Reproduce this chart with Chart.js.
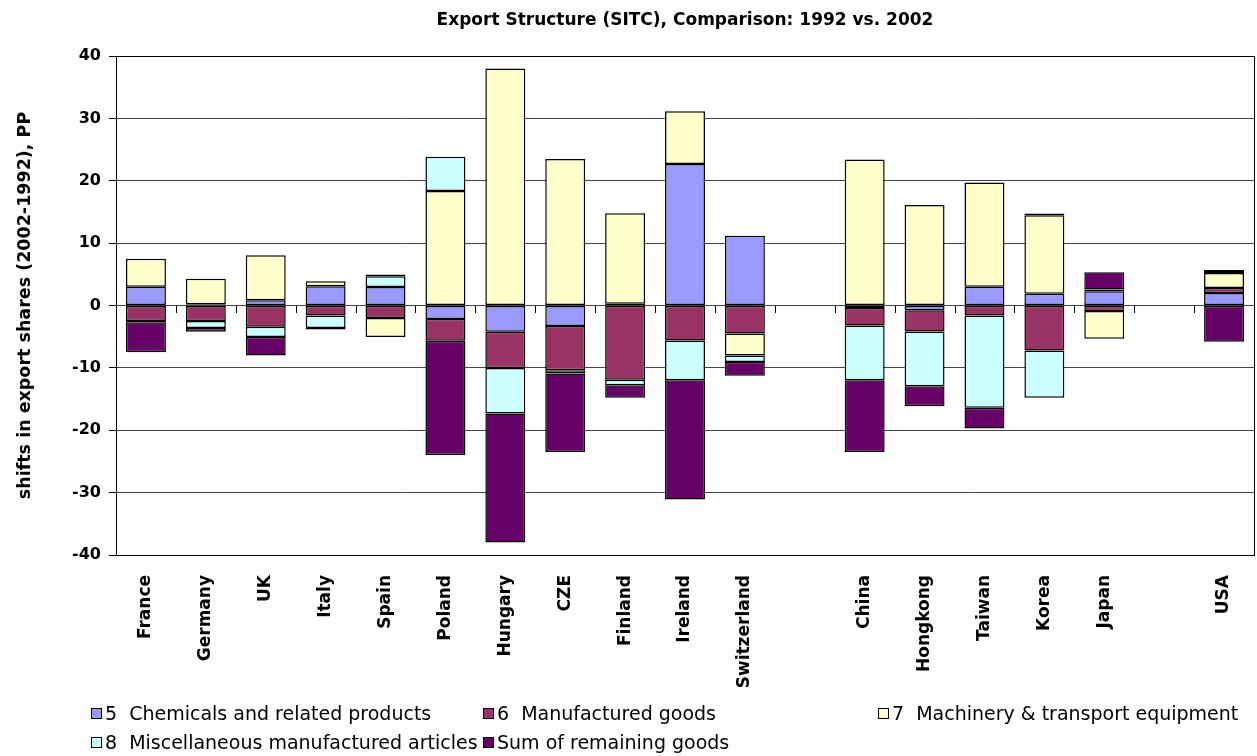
<!DOCTYPE html>
<html>
<head>
<meta charset="utf-8">
<script src="https://cdn.jsdelivr.net/npm/chart.js@4"></script>
<style>
  body { margin: 0; background: #fff; }
  #wrap { position: relative; width: 1257px; height: 756px; }
  #legend { position: absolute; left: 0; top: 0; width: 100%; height: 100%; pointer-events: none;
            font-family: 'DejaVu Sans', sans-serif; font-size: 19px; color: #000; }
  .item { position: absolute; white-space: pre; line-height: 20px; }
  .box { display: inline-block; width: 9px; height: 9px; border: 1px solid #000; margin-right: 3px; vertical-align: 1px; }
</style>
</head>
<body>
<div id="wrap">
  <canvas id="exportChart" width="1257" height="756"></canvas>
  <div id="legend"></div>
</div>
<script>
// categories (blank entries are the gaps between country groups)
const categories = ['France', 'Germany', 'UK', 'Italy', 'Spain', 'Poland', 'Hungary', 'CZE', 'Finland',
  'Ireland', 'Switzerland', '', 'China', 'Hongkong', 'Taiwan', 'Korea', 'Japan', '', 'USA'];

// shifts in export shares 2002-1992, percentage points
const chemicals    = [3.0, 0.2, 0.85, 3.1, 2.95, -2.15, -4.2, -3.3, 0.3, 22.7, 11.2, null, -0.4, -0.75, 3.0, 1.9, 2.3, null, 2.0];
const manufactured = [-2.5, -2.5, -3.4, -1.6, -2.0, -3.5, -5.8, -7.1, -11.9, -5.6, -4.5, null, -2.8, -3.4, -1.6, -7.2, -0.9, null, 0.8];
const machinery    = [4.5, 4.1, 7.2, 0.8, -3.05, 18.35, 38.0, 23.5, 14.5, 8.45, -3.5, null, 23.4, 16.1, 16.7, 12.55, -4.45, null, 2.4];
const misc         = [-0.2, -1.1, -1.65, -2.0, 1.75, 5.5, -7.3, -0.5, -0.9, -6.4, -1.05, null, -8.8, -8.8, -14.8, -7.6, 0.25, null, 0.5];
const remaining    = [-4.8, -0.6, -2.95, -0.25, 0.25, -18.3, -20.7, -12.6, -2.0, -19.1, -2.2, null, -11.5, -3.2, -3.3, 0.3, 2.8, null, -5.8];

const seriesNames = ['5  Chemicals and related products', '6  Manufactured goods', '7  Machinery & transport equipment',
  '8  Miscellaneous manufactured articles', 'Sum of remaining goods'];
const seriesData = [chemicals, manufactured, machinery, misc, remaining];
const seriesColors = ['#9999FF', '#993366', '#FFFFCC', '#CCFFFF', '#660066'];

const yTicks = [-40, -30, -20, -10, 0, 10, 20, 30, 40];
const chartTitle = 'Export Structure (SITC), Comparison: 1992 vs. 2002';

Chart.defaults.font.family = "'DejaVu Sans', sans-serif";
Chart.defaults.color = '#000';

// little tick marks on the zero line between categories
const zeroTicks = {
  id: 'zeroTicks',
  beforeDatasetsDraw(chart) {
    const { ctx, scales: { x, y } } = chart;
    const y0 = Math.round(y.getPixelForValue(0));
    const half = (x.getPixelForValue(1) - x.getPixelForValue(0)) / 2;
    ctx.save();
    ctx.strokeStyle = '#000';
    ctx.lineWidth = 1;
    for (let i = 0; i < categories.length - 1; i++) {
      const px = Math.round(x.getPixelForValue(i) + half) + 0.5;
      ctx.beginPath();
      ctx.moveTo(px, y0);
      ctx.lineTo(px, y0 + 7);
      ctx.stroke();
    }
    ctx.restore();
  }
};

// box round the plot area + title centred over the plot (like Excel does)
const plotFrame = {
  id: 'plotFrame',
  afterDraw(chart) {
    const { ctx, chartArea: a } = chart;
    ctx.save();
    ctx.strokeStyle = '#000';
    ctx.lineWidth = 1;
    ctx.strokeRect(Math.round(a.left) + 0.5, Math.round(a.top) + 0.5, Math.round(a.right - a.left), Math.round(a.bottom - a.top));
    ctx.fillStyle = '#000';
    ctx.font = "bold 17px 'DejaVu Sans', sans-serif";
    ctx.textAlign = 'center';
    ctx.textBaseline = 'middle';
    ctx.fillText(chartTitle, (a.left + a.right) / 2, 21);
    ctx.restore();
  }
};

const chart = new Chart(document.getElementById('exportChart'), {
  type: 'bar',
  data: {
    labels: categories,
    datasets: seriesData.map((d, i) => ({
      label: seriesNames[i],
      data: d,
      backgroundColor: seriesColors[i],
      borderColor: '#000',
      borderWidth: 1.5,
      borderSkipped: false,
      categoryPercentage: 1,
      barPercentage: 0.667
    }))
  },
  options: {
    responsive: false,
    animation: false,
    layout: { padding: { top: 56, right: 3 } },
    plugins: {
      legend: { display: false },
      tooltip: { enabled: false },
      title: { display: false }
    },
    scales: {
      x: {
        stacked: true,
        grid: { display: false },
        border: { display: false },
        ticks: { minRotation: 90, maxRotation: 90, autoSkip: false, padding: 12, font: { size: 17, weight: 'bold' } },
        afterFit: s => { s.height = 201; s.paddingLeft = 0; s.paddingRight = 0; }
      },
      y: {
        stacked: true,
        min: yTicks[0],
        max: yTicks[yTicks.length - 1],
        afterBuildTicks: s => { s.ticks = yTicks.map(v => ({ value: v })); },
        ticks: { padding: 8, font: { size: 16, weight: 'bold' } },
        grid: { color: '#444', tickColor: '#000', tickLength: 7 },
        border: { color: '#000' },
        title: {
          display: true,
          text: 'shifts in export shares (2002-1992), PP',
          font: { size: 17.5, weight: 'bold' },
          padding: { top: 15, bottom: 0 }
        },
        afterFit: s => { s.width = 116; s.paddingTop = 0; s.paddingBottom = 0; }
      }
    }
  },
  plugins: [zeroTicks, plotFrame]
});

// legend in the Excel-like grid: three columns, two rows
const legendCols = [91, 483, 878];
const legendRows = [713, 742];
const legend = document.getElementById('legend');
chart.data.datasets.forEach((ds, i) => {
  const item = document.createElement('div');
  item.className = 'item';
  item.style.left = legendCols[i % 3] + 'px';
  item.style.top = (legendRows[Math.floor(i / 3)] - 10) + 'px';
  const box = document.createElement('span');
  box.className = 'box';
  box.style.background = ds.backgroundColor;
  item.appendChild(box);
  item.appendChild(document.createTextNode(ds.label));
  legend.appendChild(item);
});
</script>
</body>
</html>
